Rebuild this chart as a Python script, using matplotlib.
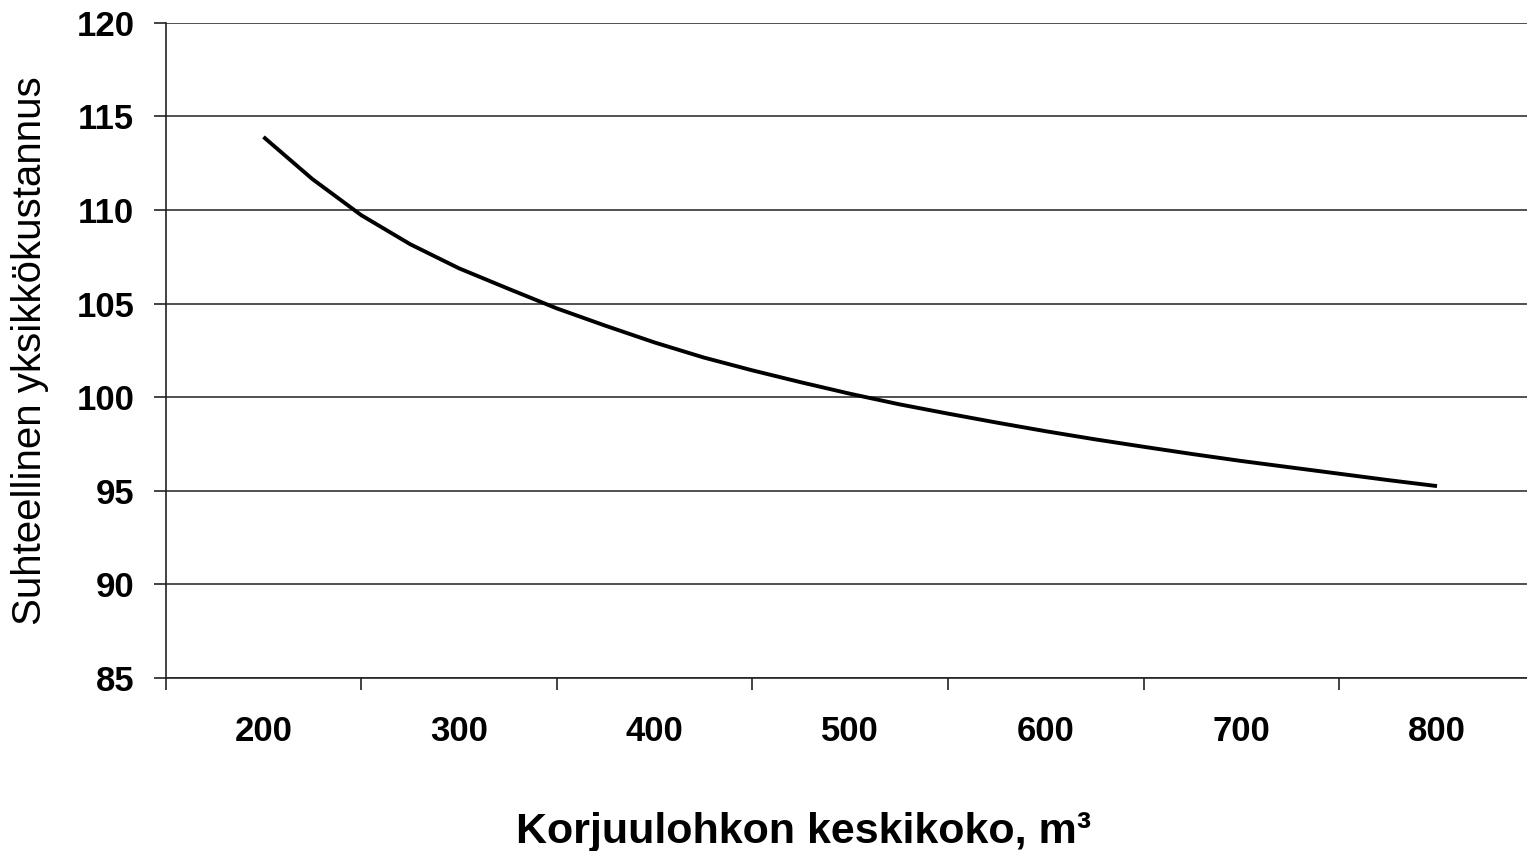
import matplotlib.pyplot as plt

# Korjuulohkon keskikoko (m3) ja suhteellinen yksikkökustannus (luettu kuvasta)
lohkon_koko = [200, 225, 250, 275, 300, 325, 350, 375, 400, 425, 450, 475, 500,
               525, 550, 575, 600, 625, 650, 675, 700, 725, 750, 775, 800]
kustannus = [113.9, 111.65, 109.72, 108.17, 106.88, 105.8, 104.74, 103.81, 102.92,
             102.12, 101.43, 100.79, 100.18, 99.62, 99.12, 98.64, 98.18, 97.75,
             97.35, 96.96, 96.59, 96.25, 95.91, 95.57, 95.25]

x_tikit = [200, 300, 400, 500, 600, 700, 800]
y_tikit = [85, 90, 95, 100, 105, 110, 115, 120]

plt.rcParams['font.family'] = ['Liberation Sans', 'DejaVu Sans']

fig = plt.figure(figsize=(15.27, 8.51), dpi=100)
ax = fig.add_axes([0.1085, 0.2033, 0.8915, 0.77])

ax.plot(lohkon_koko, kustannus, color='black', linewidth=2.8, solid_capstyle='butt')

# Kategoria-akselin tyyliset rajat: tikit kategorioiden välissä
ax.set_xlim(x_tikit[0] - 50, x_tikit[-1] + 46)
ax.set_ylim(y_tikit[0], y_tikit[-1])

ax.set_xticks([x - 50 for x in x_tikit])
ax.set_xticklabels([])
ax.set_xticks(x_tikit, minor=True)
ax.set_xticklabels([str(x) for x in x_tikit], minor=True, fontsize=25, fontweight='bold')
ax.tick_params(axis='x', which='major', direction='out', length=8.6, width=1.2, color='#222222')
ax.tick_params(axis='x', which='minor', length=0, pad=27)

ax.set_yticks(y_tikit)
ax.set_yticklabels([str(y) for y in y_tikit], fontsize=25, fontweight='bold')
ax.tick_params(axis='y', direction='out', length=8.6, width=1.2, color='#222222', pad=14)

ax.grid(axis='y', color='#222222', linewidth=1.1)
ax.set_axisbelow(True)

for puoli in ['top', 'right']:
    ax.spines[puoli].set_visible(False)
for puoli in ['left', 'bottom']:
    ax.spines[puoli].set_color('#222222')
    ax.spines[puoli].set_linewidth(1.2)

fig.text(30 / 1527, 0.588, 'Suhteellinen yksikkökustannus', rotation=90,
         ha='center', va='center', fontsize=29)
fig.text(804 / 1527, 0.009, 'Korjuulohkon keskikoko, m³', ha='center', va='baseline',
         fontsize=31, fontweight='bold')

fig.savefig('out.png', dpi=100)
